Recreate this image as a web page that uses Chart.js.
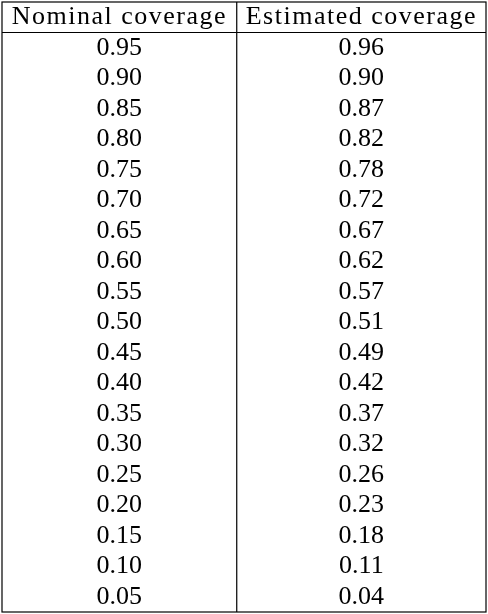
<!DOCTYPE html>
<html>
<head>
<meta charset="utf-8">
<script src="https://cdn.jsdelivr.net/npm/chart.js@4"></script>
<style>
  html, body { margin: 0; padding: 0; background: #fff; }
  #wrap { width: 488px; height: 614px; }
</style>
</head>
<body>
<div id="wrap"><canvas id="tbl"></canvas></div>
<script>
// table data
const headers = ['Nominal coverage', 'Estimated coverage'];
const nominal = [0.95, 0.90, 0.85, 0.80, 0.75, 0.70, 0.65, 0.60, 0.55, 0.50,
                 0.45, 0.40, 0.35, 0.30, 0.25, 0.20, 0.15, 0.10, 0.05];
const estimated = [0.96, 0.90, 0.87, 0.82, 0.78, 0.72, 0.67, 0.62, 0.57, 0.51,
                   0.49, 0.42, 0.37, 0.32, 0.26, 0.23, 0.18, 0.11, 0.04];

const colCenters = [0.485, 1.485];
const divider = 0.97;
const FONT = '26px "Liberation Serif", "DejaVu Serif", serif';

// draws the cells, text and rules from the scales
const tablePlugin = {
  id: 'tablePlugin',
  afterDraw(chart) {
    const { ctx, scales: { x, y } } = chart;
    const left = x.getPixelForValue(0), right = x.getPixelForValue(2);
    const top = y.getPixelForValue(0), bottom = y.getPixelForValue(nominal.length + 1);
    ctx.save();
    ctx.strokeStyle = '#000';
    ctx.lineWidth = 1.2;
    ctx.strokeRect(left, top, right - left, bottom - top);
    ctx.beginPath();
    const hy = y.getPixelForValue(1);
    ctx.moveTo(left, hy); ctx.lineTo(right, hy);
    const dx = x.getPixelForValue(divider);
    ctx.moveTo(dx, top); ctx.lineTo(dx, bottom);
    ctx.stroke();

    ctx.fillStyle = '#000';
    ctx.font = FONT;
    ctx.textAlign = 'center';
    ctx.textBaseline = 'middle';
    ctx.letterSpacing = '1.5px';
    headers.forEach((h, c) => {
      ctx.fillText(h, x.getPixelForValue(colCenters[c]), y.getPixelForValue(0.5));
    });
    ctx.letterSpacing = '0px';
    nominal.forEach((v, i) => {
      const py = y.getPixelForValue(i + 1.5);
      ctx.fillText(v.toFixed(2), x.getPixelForValue(colCenters[0]), py);
      ctx.fillText(estimated[i].toFixed(2), x.getPixelForValue(colCenters[1]), py);
    });
    ctx.restore();
  }
};

new Chart(document.getElementById('tbl'), {
  type: 'scatter',
  data: {
    datasets: [
      { data: nominal.map((v, i) => ({ x: colCenters[0], y: i + 1.5 })), pointRadius: 0 },
      { data: estimated.map((v, i) => ({ x: colCenters[1], y: i + 1.5 })), pointRadius: 0 }
    ]
  },
  options: {
    responsive: true,
    maintainAspectRatio: false,
    animation: false,
    layout: { padding: { left: 2, right: 2, top: 2, bottom: 2 } },
    plugins: { legend: { display: false }, tooltip: { enabled: false } },
    scales: {
      x: { type: 'linear', min: 0, max: 2, display: false },
      y: { type: 'linear', min: 0, max: nominal.length + 1, reverse: true, display: false }
    }
  },
  plugins: [tablePlugin]
});
</script>
</body>
</html>
